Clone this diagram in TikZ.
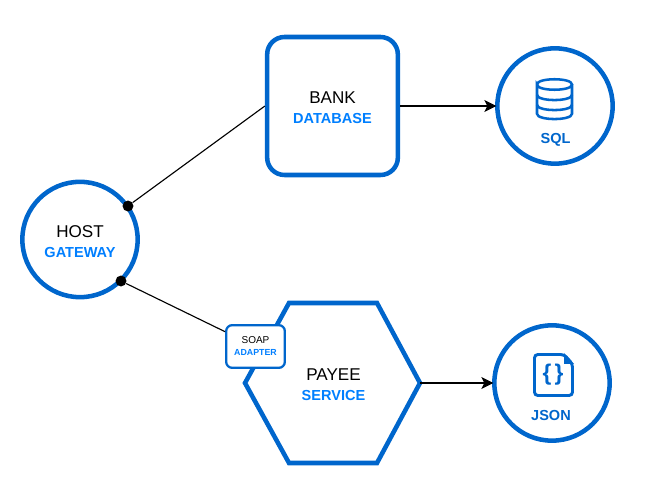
\documentclass[tikz,border=0pt]{standalone}
\usepackage{fontspec}
\setmainfont{Liberation Sans}
\usetikzlibrary{arrows.meta}
\definecolor{edgeblue}{HTML}{0066CC}
\definecolor{tagblue}{HTML}{007FFF}
\newcommand{\tagline}[1]{\textcolor{tagblue}{\bfseries\fontsize{10.9pt}{15pt}\selectfont #1}}
\tikzset{
  roundnode/.style={circle,draw=edgeblue,line width=3.4pt,minimum size=86.5pt,inner sep=0pt,fill=white},
  maintext/.style={align=center,font=\fontsize{12.8pt}{15pt}\selectfont},
  icontext/.style={font=\bfseries\fontsize{10.9pt}{12pt}\selectfont,text=edgeblue},
  iconline/.style={draw=edgeblue,line width=1.9pt},
  link/.style={line width=.85pt},
  flow/.style={line width=.85pt,shorten >=-1pt,-{Stealth[length=9pt,width=9pt,inset=2.2pt]}},
  pin/.style={circle,fill=black,minimum size=8.2pt,inner sep=0pt}
}
\begin{document}
\begin{tikzpicture}[x=.75pt,y=-.75pt]
\useasboundingbox (0,0) rectangle (657,491);
% main shapes
\node[roundnode] (host) at (80,239.5) {};
\node[roundnode] (sql) at (555,106) {};
\node[roundnode] (json) at (552,383) {};
\node[draw=edgeblue,line width=3.4pt,rounded corners=13pt,minimum width=98pt,minimum height=103.5pt,inner sep=0pt] (bank) at (332.5,106) {};
\coordinate (payeeright) at (420,383);
\draw[edgeblue,line width=3.4pt,line join=miter] (289,303) -- (377,303) -- (payeeright) -- (377,463) -- (289,463) -- (245,383) -- cycle;
\node[draw=edgeblue,fill=white,line width=1.7pt,rounded corners=4.5pt,minimum width=44pt,minimum height=32pt,inner sep=0pt,align=center,font=\fontsize{7.5pt}{9.5pt}\selectfont] (adapter) at (255.5,346.5) {SOAP\\[-.5pt]\textcolor{tagblue}{\bfseries\fontsize{6.6pt}{9pt}\selectfont ADAPTER}};
% labels
\node[maintext] (hosttext) at (80,241.5) {HOST\\[.2pt]\tagline{GATEWAY}};
\node[maintext] (banktext) at (332.5,107.5) {BANK\\[.2pt]\tagline{DATABASE}};
\node[maintext] (payeetext) at (333.5,384.5) {PAYEE\\[.2pt]\tagline{SERVICE}};
\node[icontext] (sqltext) at (555.5,139.5) {SQL};
\node[icontext] (jsontext) at (551,415.5) {JSON};
% connectors
\node[pin] (pinbank) at (128,206) {};
\node[pin] (pinadapter) at (121,281) {};
\draw[link] (pinbank) -- (bank.west);
\draw[link] (pinadapter) -- (adapter);
\draw[flow] (bank.east) -- (sql.west);
\draw[flow] (payeeright) -- (json.west);
% database icon
\draw[iconline] (537,84.5) .. controls (537,77.5) and (572,77.5) .. (572,84.5) .. controls (572,91.5) and (537,91.5) .. (537,84.5) -- (537,113.8) .. controls (537,120.8) and (572,120.8) .. (572,113.8) -- (572,84.5);
\draw[iconline] (537,94.8) .. controls (537,101.8) and (572,101.8) .. (572,94.8);
\draw[iconline] (537,104.8) .. controls (537,111.8) and (572,111.8) .. (572,104.8);
% file icon
\draw[iconline,line width=2.2pt,rounded corners=2.5pt] (534.5,354.5) -- (564,354.5) -- (572.5,364) -- (572.5,395.5) -- (534.5,395.5) -- cycle;
\fill[edgeblue] (564,353) -- (574,364) -- (564,364) -- cycle;
\node[text=edgeblue,font=\bfseries\fontsize{17pt}{17pt}\selectfont] (brace) at (553,375) {\{\kern2.5pt\}};
\end{tikzpicture}
\end{document}
